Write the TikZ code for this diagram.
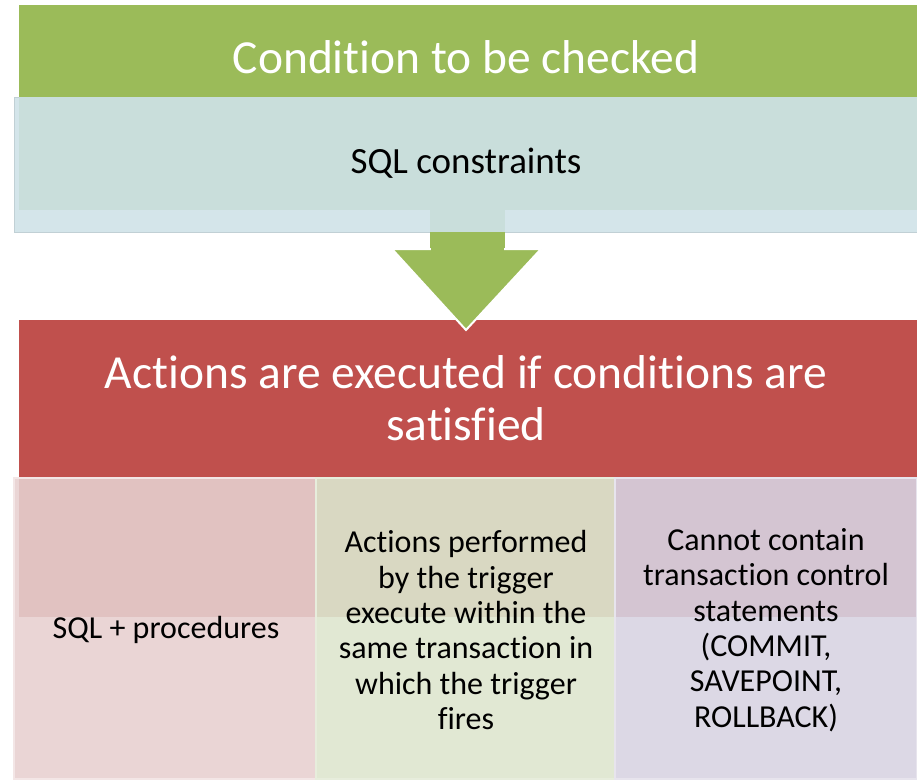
\documentclass[tikz,border=0pt]{standalone}
\usepackage{fontspec}
\setmainfont{Carlito}[Ligatures={NoCommon}]
\definecolor{cgreen}{HTML}{9BBB59}
\definecolor{cred}{HTML}{C0504D}
\definecolor{cblue}{HTML}{D4E5EA}
\definecolor{cblueup}{HTML}{C9DEDB}
\definecolor{cpinkup}{HTML}{E1C2C1}
\definecolor{cpinklo}{HTML}{EAD5D5}
\definecolor{cgrnup}{HTML}{D9D8C2}
\definecolor{cgrnlo}{HTML}{E1E8D3}
\definecolor{cpurup}{HTML}{D4C5D2}
\definecolor{cpurlo}{HTML}{DCD8E5}
\begin{document}
\begin{tikzpicture}[x=0.75pt,y=-0.75pt,
  bigtxt/.style={text=white,font=\fontsize{35.6}{39}\selectfont,align=center,inner sep=0pt},
  midtxt/.style={text=black,font=\fontsize{27.75}{31}\selectfont,align=center,inner sep=0pt},
  smalltxt/.style={text=black,font=\fontsize{24}{26.5}\selectfont,align=center,inner sep=0pt}]
\useasboundingbox (0,0) rectangle (917,779);
\fill[white] (0,0) rectangle (917,779);
% top green box
\fill[cgreen] (19,5) rectangle (917,97);
% blue box
\fill[cblue,draw=cblue!85!black!60!cblue] (14,97) rectangle (917,232);
\fill[cblueup] (19,97) rectangle (917,210);
\fill[cblueup] (430,210) rectangle (505,232);
% red box
\fill[cred] (19,320) rectangle (917,478);
% arrow
\fill[cgreen] (430,232) rectangle (505,250);
\filldraw[fill=cgreen,draw=white,line width=1.5pt,line join=miter] (392,249) -- (541,249) -- (466,330) -- cycle;
\fill[cgreen] (431,240) rectangle (504,251);
% columns
\fill[cpinklo] (14,478) rectangle (316,779);
\fill[cpinkup] (19,478) rectangle (316,617);
\fill[cgrnlo] (316,478) rectangle (615,779);
\fill[cgrnup] (316,478) rectangle (615,617);
\fill[cpurlo] (615,478) rectangle (917,779);
\fill[cpurup] (615,478) rectangle (917,617);
\draw[white!40!cpinklo,line width=1pt] (14,478) rectangle (316,779);
\draw[white!20!cgrnlo,line width=1pt] (316,478) rectangle (615,779);
\draw[white!30!cpurlo,line width=1pt] (615,478) rectangle (917,779);
% texts
\node[bigtxt] (t1) at (466,57) {Condition to be checked};
\node[midtxt] (t2) at (466,163) {SQL constraints};
\node[bigtxt] (t3) at (466,398) {Actions are executed if conditions are\\satisfied};
\node[smalltxt] (c1) at (166,630) {SQL + procedures};
\node[smalltxt] (c2) at (466,630) {Actions performed\\by the trigger\\execute within the\\same transaction in\\which the trigger\\fires};
\node[smalltxt] (c3) at (766,630) {Cannot contain\\transaction control\\statements\\(COMMIT,\\SAVEPOINT,\\ROLLBACK)};
\end{tikzpicture}
\end{document}
